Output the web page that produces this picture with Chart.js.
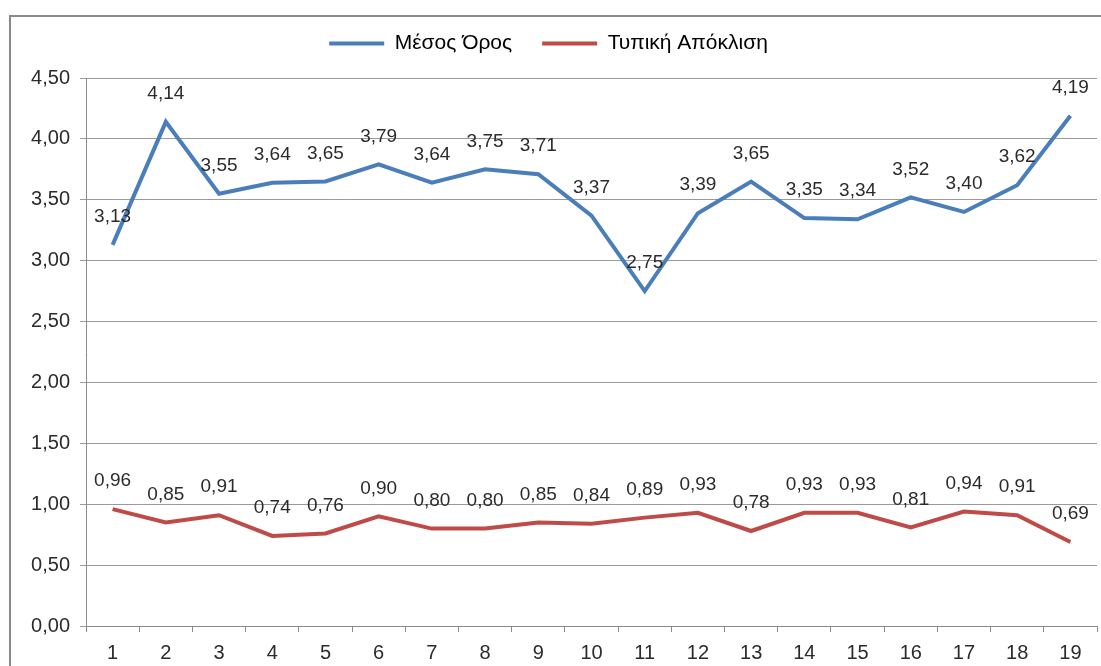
<!DOCTYPE html>
<html>
<head>
<meta charset="utf-8">
<script src="https://cdn.jsdelivr.net/npm/chart.js@4/dist/chart.umd.min.js"></script>
<style>
  html, body { margin: 0; padding: 0; background: #fff; }
  #wrap { width: 1101px; height: 666px; }
</style>
</head>
<body>
<div id="wrap"><canvas id="grafico" width="1101" height="666"></canvas></div>
<script>
const categorias = ['1','2','3','4','5','6','7','8','9','10','11','12','13','14','15','16','17','18','19'];
const mesosOros = [3.13, 4.14, 3.55, 3.64, 3.65, 3.79, 3.64, 3.75, 3.71, 3.37, 2.75, 3.39, 3.65, 3.35, 3.34, 3.52, 3.40, 3.62, 4.19];
const typikiApoklisi = [0.96, 0.85, 0.91, 0.74, 0.76, 0.90, 0.80, 0.80, 0.85, 0.84, 0.89, 0.93, 0.78, 0.93, 0.93, 0.81, 0.94, 0.91, 0.69];
const ejeY = { min: 0, max: 4.5, paso: 0.5 };

const coma = v => v.toFixed(2).replace('.', ',');
const FUENTE = 'Liberation Sans, Arial, sans-serif';

// marco gris alrededor del gráfico
const marco = {
  id: 'marco',
  beforeDraw(chart) {
    const ctx = chart.ctx;
    ctx.save();
    ctx.strokeStyle = '#8a8a8a';
    ctx.lineWidth = 2;
    ctx.strokeRect(10, 16, chart.width + 20, chart.height + 20);
    ctx.restore();
  }
};

// espacio extra bajo la leyenda
const espacioLeyenda = {
  id: 'espacioLeyenda',
  afterInit(chart) {
    const lg = chart.legend;
    if (!lg) return;
    const fit = lg.fit.bind(lg);
    lg.fit = function () { fit(); this.height += 14; };
  }
};

// etiquetas con el valor encima de cada punto
const etiquetas = {
  id: 'etiquetas',
  afterDatasetsDraw(chart) {
    const ctx = chart.ctx;
    ctx.save();
    ctx.font = '19px ' + FUENTE;
    ctx.fillStyle = '#2b2b2b';
    ctx.textAlign = 'center';
    ctx.textBaseline = 'middle';
    chart.data.datasets.forEach((ds, i) => {
      chart.getDatasetMeta(i).data.forEach((p, j) => {
        ctx.fillText(coma(ds.data[j]), p.x, p.y - 28);
      });
    });
    ctx.restore();
  }
};

new Chart(document.getElementById('grafico'), {
  type: 'line',
  data: {
    labels: categorias,
    datasets: [
      {
        label: 'Μέσος Όρος',
        data: mesosOros,
        borderColor: '#4a7ebb',
        backgroundColor: '#4a7ebb',
        borderWidth: 4,
        pointRadius: 0,
        tension: 0
      },
      {
        label: 'Τυπική Απόκλιση',
        data: typikiApoklisi,
        borderColor: '#be4b48',
        backgroundColor: '#be4b48',
        borderWidth: 4,
        pointRadius: 0,
        tension: 0
      }
    ]
  },
  options: {
    responsive: false,
    animation: false,
    layout: { padding: { top: 3, left: 0, right: 4, bottom: 0 } },
    plugins: {
      legend: {
        position: 'top',
        labels: {
          usePointStyle: true,
          pointStyle: 'line',
          pointStyleWidth: 55,
          padding: 30,
          color: '#000',
          font: { family: FUENTE, size: 21 }
        }
      },
      tooltip: { enabled: false }
    },
    scales: {
      x: {
        offset: true,
        grid: {
          offset: true,
          drawOnChartArea: false,
          drawTicks: true,
          tickLength: 6,
          color: '#8a8a8a'
        },
        border: { display: true, color: '#8a8a8a', width: 1 },
        ticks: {
          padding: 9,
          color: '#2b2b2b',
          font: { family: FUENTE, size: 20 },
          maxRotation: 0
        },
        afterFit(s) { s.height = 40; }
      },
      y: {
        min: ejeY.min,
        max: ejeY.max,
        grid: {
          color: '#9a9a9a',
          tickLength: 6
        },
        border: { display: true, color: '#8a8a8a', width: 1 },
        ticks: {
          stepSize: ejeY.paso,
          padding: 10,
          color: '#2b2b2b',
          font: { family: FUENTE, size: 20 },
          callback: v => coma(v)
        },
        afterFit(s) { s.width = 86; }
      }
    }
  },
  plugins: [marco, espacioLeyenda, etiquetas]
});
</script>
</body>
</html>
